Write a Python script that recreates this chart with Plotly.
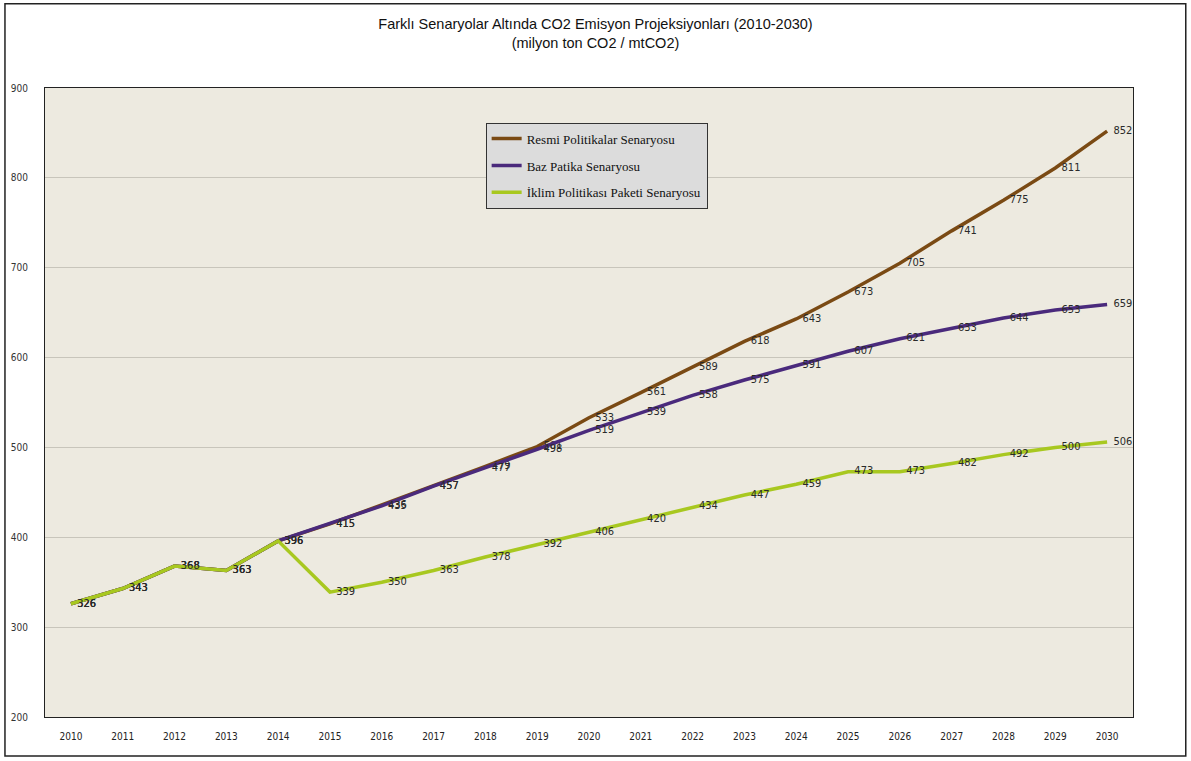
import plotly.graph_objects as go

years = [str(y) for y in range(2010, 2031)]

resmi = [326, 343, 368, 363, 396, 415, 436, 457, 479, 501, 533, 561, 589, 618,
         643, 673, 705, 741, 775, 811, 852]
baz = [326, 343, 368, 363, 396, 415, 435, 457, 477, 498, 519, 539, 558, 575,
       591, 607, 621, 633, 644, 653, 659]
iklim = [326, 343, 368, 363, 396, 339, 350, 363, 378, 392, 406, 420, 434, 447,
         459, 473, 473, 482, 492, 500, 506]

series = [
    ("Resmi Politikalar Senaryosu", resmi, "#7a4a14"),
    ("Baz Patika Senaryosu", baz, "#4a2a7c"),
    ("İklim Politikası Paketi Senaryosu", iklim, "#a8c820"),
]

fig = go.Figure()
for i, (name, vals, color) in enumerate(series):
    fig.add_trace(go.Scatter(
        x=years, y=vals, name=name, mode="lines+text", legendgroup=f"g{i}",
        line=dict(color=color, width=3.5),
        text=["  " + str(v) for v in vals], textposition="middle right",
        textfont=dict(family="DejaVu Sans Condensed, DejaVu Sans", size=11, color="#2a2a2a"),
        cliponaxis=False,
    ))

fig.update_layout(
    width=1191, height=761,
    margin=dict(l=45, r=58, t=88, b=44),
    paper_bgcolor="white",
    plot_bgcolor="#edeae0",
    title=dict(
        text="Farklı Senaryolar Altında CO2 Emisyon Projeksiyonları (2010-2030)<br>(milyon ton CO2 / mtCO2)",
        x=0.5, xanchor="center", y=0.962, yanchor="middle",
        font=dict(family="Liberation Sans Narrow, Arial Narrow, Liberation Sans", size=14.5, color="#111"),
    ),
    showlegend=True,
    legend=dict(
        x=0.405, y=0.945, xanchor="left", yanchor="top",
        bgcolor="#dcdcdc", bordercolor="#333", borderwidth=1,
        font=dict(family="Liberation Serif, DejaVu Serif", size=13, color="#111"),
        tracegroupgap=7, itemwidth=30,
    ),
    xaxis=dict(
        type="category", range=[-0.5, 20.5], showgrid=False,
        tickfont=dict(family="DejaVu Sans Condensed, DejaVu Sans", size=10, color="#222"),
        ticks="", showline=True, linecolor="#222", linewidth=1, mirror=True,
        ticklabelstandoff=10,
    ),
    yaxis=dict(
        range=[200, 900], dtick=100, showgrid=True, gridcolor="#c8c5bb", gridwidth=1,
        tickfont=dict(family="DejaVu Sans Condensed, DejaVu Sans", size=10, color="#333"),
        ticks="", showline=True, linecolor="#222", linewidth=1, mirror=True,
        ticklabelstandoff=14, zeroline=False,
    ),
    shapes=[dict(
        type="rect", xref="paper", yref="paper", x0=-0.0368, x1=1.0485, y0=-0.062, y1=1.134,
        line=dict(color="#222", width=1.5), fillcolor="rgba(0,0,0,0)", layer="below",
    )],
)

fig.write_html("out.html")
